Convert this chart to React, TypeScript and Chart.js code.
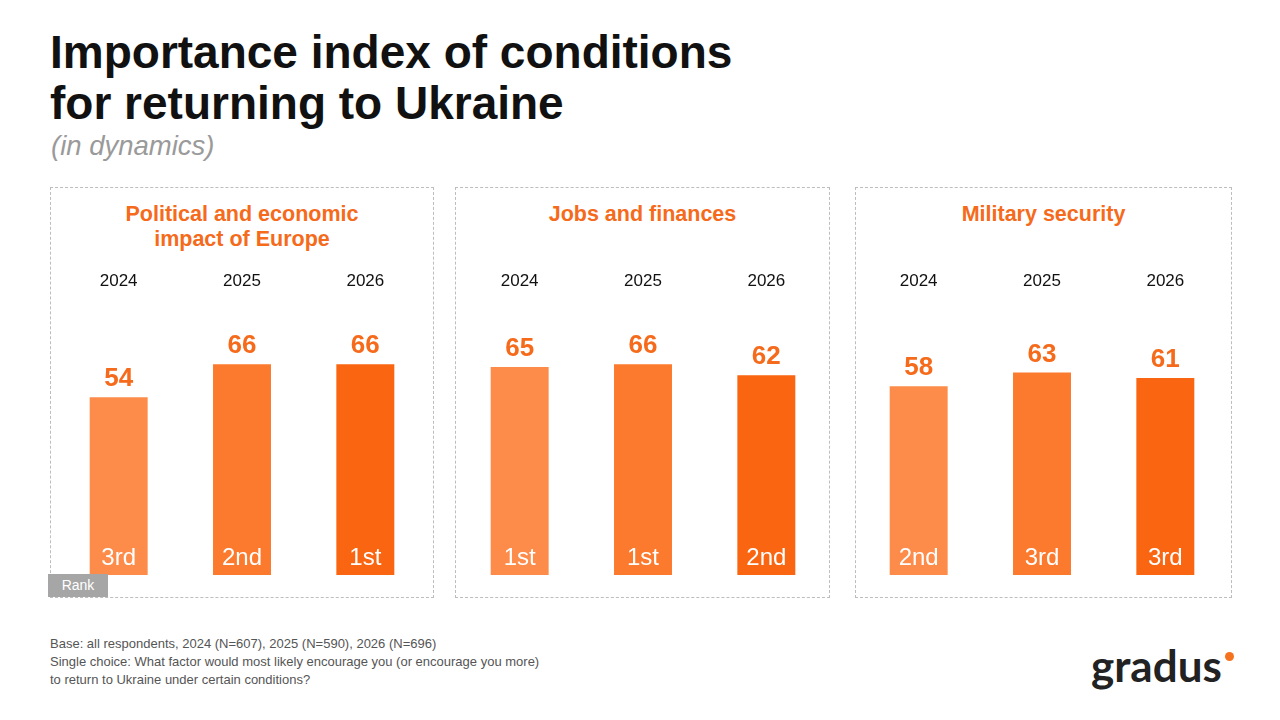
import React, { useEffect, useRef } from "react";
import { Chart, registerables } from "chart.js";

Chart.register(...registerables);

// ---- Data ----
const YEARS = ["2024", "2025", "2026"];

const EUROPE_TITLE = ["Political and economic", "impact of Europe"];
const EUROPE_VALUES = [54, 66, 66];
const EUROPE_RANKS = ["3rd", "2nd", "1st"];

const JOBS_TITLE = ["Jobs and finances"];
const JOBS_VALUES = [65, 66, 62];
const JOBS_RANKS = ["1st", "1st", "2nd"];

const SECURITY_TITLE = ["Military security"];
const SECURITY_VALUES = [58, 63, 61];
const SECURITY_RANKS = ["2nd", "3rd", "3rd"];

// ---- Styling ----
const BAR_COLORS = ["#FD8C4A", "#FC7A2D", "#FA6511"];
const ORANGE_TEXT = "#F56A1B";
const FONT = "'Liberation Sans', Arial, Helvetica, sans-serif";
const SCALE_MIN = -11;
const SCALE_MAX = 89;

type PanelProps = {
  title: string[];
  values: number[];
  ranks: string[];
  left: number;
  width: number;
  chartLeft: number;
};

function PanelChart({ values, ranks, left, width }: { values: number[]; ranks: string[]; left: number; width: number }) {
  const ref = useRef<HTMLCanvasElement | null>(null);

  useEffect(() => {
    if (!ref.current) return;

    const barLabels = {
      id: "barLabels",
      afterDatasetsDraw(chart: any) {
        const { ctx } = chart;
        const meta = chart.getDatasetMeta(0);
        meta.data.forEach((bar: any, i: number) => {
          ctx.save();
          ctx.textAlign = "center";
          ctx.textBaseline = "alphabetic";
          // value above the bar
          ctx.fillStyle = ORANGE_TEXT;
          ctx.font = `bold 26px ${FONT}`;
          ctx.fillText(String(values[i]), bar.x, bar.y - 11);
          // rank inside the bar bottom
          ctx.fillStyle = "#ffffff";
          ctx.font = `24px ${FONT}`;
          ctx.fillText(ranks[i], bar.x, bar.base - 10);
          ctx.restore();
        });
      },
    };

    const chart = new Chart(ref.current, {
      type: "bar",
      data: {
        labels: YEARS,
        datasets: [
          {
            data: values,
            backgroundColor: BAR_COLORS,
            base: SCALE_MIN,
            barPercentage: 0.47,
            categoryPercentage: 1,
          } as any,
        ],
      },
      options: {
        animation: false,
        responsive: false,
        maintainAspectRatio: false,
        layout: { padding: 0 },
        plugins: {
          legend: { display: false },
          tooltip: { enabled: false },
        },
        scales: {
          x: {
            position: "top",
            grid: { display: false, drawTicks: false },
            border: { display: false },
            ticks: {
              color: "#111111",
              padding: 10,
              font: { family: FONT, size: 17 },
            },
          },
          y: {
            display: false,
            min: SCALE_MIN,
            max: SCALE_MAX,
          },
        },
      },
      plugins: [barLabels],
    });

    return () => chart.destroy();
  }, [values, ranks]);

  return (
    <canvas
      ref={ref}
      width={width}
      height={314}
      style={{ position: "absolute", left, top: 261, width, height: 314 }}
    />
  );
}

function Panel({ title, values, ranks, left, width, chartLeft }: PanelProps) {
  return (
    <>
      <div
        style={{
          position: "absolute",
          left,
          top: 187,
          width,
          height: 411,
          boxSizing: "border-box",
          border: "1px dashed #BDBDBD",
        }}
      />
      <div
        style={{
          position: "absolute",
          left,
          top: 202,
          width,
          textAlign: "center",
          color: ORANGE_TEXT,
          fontFamily: FONT,
          fontWeight: "bold",
          fontSize: 21.5,
          lineHeight: "25px",
        }}
      >
        {title.map((t, i) => (
          <div key={i}>{t}</div>
        ))}
      </div>
      <PanelChart values={values} ranks={ranks} left={chartLeft} width={370} />
    </>
  );
}

export default function App() {
  return (
    <div
      style={{
        position: "fixed",
        left: 0,
        top: 0,
        width: 1280,
        height: 720,
        background: "#ffffff",
        overflow: "hidden",
        fontFamily: FONT,
      }}
    >
      <div
        style={{
          position: "absolute",
          left: 50,
          top: 27,
          fontSize: 46,
          fontWeight: "bold",
          lineHeight: "51px",
          color: "#111111",
        }}
      >
        <div>Importance index of conditions</div>
        <div>for returning to Ukraine</div>
      </div>
      <div
        style={{
          position: "absolute",
          left: 51,
          top: 130,
          fontSize: 27.5,
          lineHeight: "32px",
          fontStyle: "italic",
          color: "#9A9A9A",
        }}
      >
        (in dynamics)
      </div>

      <Panel title={EUROPE_TITLE} values={EUROPE_VALUES} ranks={EUROPE_RANKS} left={50} width={384} chartLeft={57} />
      <Panel title={JOBS_TITLE} values={JOBS_VALUES} ranks={JOBS_RANKS} left={455} width={375} chartLeft={458} />
      <Panel title={SECURITY_TITLE} values={SECURITY_VALUES} ranks={SECURITY_RANKS} left={855} width={377} chartLeft={857} />

      <div
        style={{
          position: "absolute",
          left: 48,
          top: 574,
          width: 60,
          height: 23,
          background: "#A6A6A6",
          color: "#ffffff",
          fontSize: 14,
          lineHeight: "23px",
          textAlign: "center",
        }}
      >
        Rank
      </div>

      <div
        style={{
          position: "absolute",
          left: 50,
          top: 635,
          fontSize: 13,
          lineHeight: "18px",
          color: "#555555",
        }}
      >
        <div>Base: all respondents, 2024 (N=607), 2025 (N=590), 2026 (N=696)</div>
        <div>Single choice: What factor would most likely encourage you (or encourage you more)</div>
        <div>to return to Ukraine under certain conditions?</div>
      </div>

      <div
        style={{
          position: "absolute",
          left: 1091,
          top: 640,
          fontFamily: "Lato, 'Noto Sans', sans-serif",
          fontWeight: "bold",
          fontSize: 44,
          lineHeight: "50px",
          color: "#222222",
        }}
      >
        gradus
      </div>
      <div
        style={{
          position: "absolute",
          left: 1225,
          top: 652,
          width: 9,
          height: 9,
          borderRadius: "50%",
          background: "#F5731E",
        }}
      />
    </div>
  );
}
